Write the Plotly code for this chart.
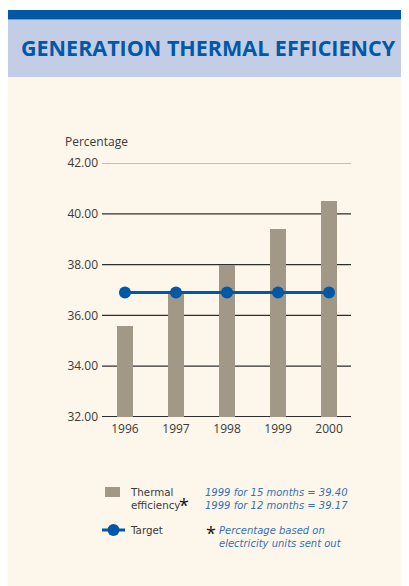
import plotly.graph_objects as go

years = [1996, 1997, 1998, 1999, 2000]
thermal_efficiency = [35.6, 36.9, 38.0, 39.4, 40.5]
target = [36.9, 36.9, 36.9, 36.9, 36.9]
y_ticks = [32, 34, 36, 38, 40, 42]
x_tick_labels = ["1996", "1997", "1998", "1999", "2000"]

# page has an 8px body margin: the figure occupies 8..409 x 8..586
OFF = 8
W, H = 409 - OFF, 586 - OFF
L, R, T, B = 102, 351, 163, 417  # plot area in page pixels

def px(x):
    return (x - L) / (R - L)

def py(y):
    return (B - y) / (B - T)

FONT = "Open Sans"
LFONT = "DejaVu Sans"
BLUE = "#0058A6"
NOTE_BLUE = "#3570B8"
GREY_BAR = "#A19887"
TXT = "#3a3a3a"

fig = go.Figure()
fig.add_trace(go.Bar(x=years, y=thermal_efficiency, width=0.31,
                     marker=dict(color=GREY_BAR, line=dict(width=0)),
                     showlegend=False, hoverinfo="skip"))
fig.add_trace(go.Scatter(x=years, y=target, mode="lines+markers",
                         line=dict(color=BLUE, width=3),
                         marker=dict(color=BLUE, size=12),
                         showlegend=False, hoverinfo="skip"))

shapes = []
# background bands
shapes.append(dict(type="rect", xref="paper", yref="paper", x0=px(6), x1=px(412), y0=py(590), y1=py(77),
                   fillcolor="#FDF6EB", line=dict(width=0), layer="below"))
shapes.append(dict(type="rect", xref="paper", yref="paper", x0=px(6), x1=px(412), y0=py(77), y1=py(19.5),
                   fillcolor="#C4CDE6", line=dict(width=0), layer="below"))
shapes.append(dict(type="rect", xref="paper", yref="paper", x0=px(6), x1=px(412), y0=py(19.5), y1=py(10),
                   fillcolor=BLUE, line=dict(width=0), layer="below"))
# gridlines
for v in y_ticks:
    col = "#8a8580" if v == max(y_ticks) else "#2e2e2e"
    w = 2 if v == min(y_ticks) else 1.2
    shapes.append(dict(type="line", xref="paper", yref="y", x0=0, x1=1, y0=v, y1=v,
                       line=dict(color=col, width=w), layer="below"))
# legend glyphs
shapes.append(dict(type="rect", xref="paper", yref="paper", x0=px(105), x1=px(120), y0=py(497), y1=py(487),
                   fillcolor=GREY_BAR, line=dict(width=0)))
shapes.append(dict(type="line", xref="paper", yref="paper", x0=px(102), x1=px(125), y0=py(530), y1=py(530),
                   line=dict(color=BLUE, width=3)))
shapes.append(dict(type="circle", xref="paper", yref="paper", x0=px(107.5), x1=px(119.5), y0=py(536), y1=py(524),
                   fillcolor=BLUE, line=dict(width=0)))

def ann(text, x, y, size=11, color=TXT, xanchor="left", italic=False, bold=False, family=FONT):
    t = text
    if italic:
        t = "<i>" + t + "</i>"
    if bold:
        t = "<b>" + t + "</b>"
    return dict(text=t, xref="paper", yref="paper", x=px(x), y=py(y), xanchor=xanchor, yanchor="middle",
                align="left", showarrow=False, borderpad=0,
                font=dict(family=family, size=size, color=color))

annotations = [
    ann("GENERATION THERMAL EFFICIENCY", 208, 48, size=21.5, color=BLUE, xanchor="center", bold=True),
    ann("Percentage", 64, 142, size=12),
    ann("Thermal<br>efficiency", 129, 499, size=10.3, family=LFONT),
    ann("*", 178, 505, size=18, color="#111"),
    ann("Target", 129, 530, size=10.3, family=LFONT),
    ann("1999 for 15 months = 39.40<br>1999 for 12 months = 39.17", 204, 499.5, size=10,
        color=NOTE_BLUE, italic=True, family=LFONT),
    ann("*", 205, 533, size=18, color="#111"),
    ann("Percentage based on<br>electricity units sent out", 218, 536.5, size=10,
        color=NOTE_BLUE, italic=True, family=LFONT),
]

fig.update_layout(
    width=W, height=H,
    margin=dict(l=L - OFF, r=409 - R, t=T - OFF, b=586 - B, pad=0),
    paper_bgcolor="white", plot_bgcolor="rgba(0,0,0,0)",
    font=dict(family=FONT, color=TXT, size=12),
    shapes=shapes, annotations=annotations,
    bargap=0,
    xaxis=dict(range=[1995.55, 2000.43], tickmode="array", tickvals=years, ticktext=x_tick_labels,
               showgrid=False, zeroline=False, showline=False, ticks="",
               ticklabelstandoff=3,
               tickfont=dict(size=12, color=TXT)),
    yaxis=dict(range=[32, 42], tickmode="array", tickvals=y_ticks,
               ticktext=[f"{v:.2f}" for v in y_ticks],
               showgrid=False, zeroline=False, showline=False, ticks="",
               ticklabelstandoff=3,
               tickfont=dict(size=12, color=TXT)),
)

fig.write_html("out.html")
